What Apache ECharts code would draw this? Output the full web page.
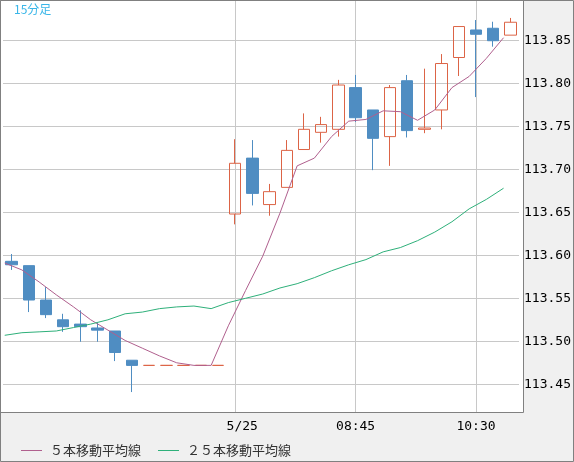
<!DOCTYPE html>
<html>
<head>
<meta charset="utf-8">
<script src="https://cdn.jsdelivr.net/npm/echarts@6/dist/echarts.min.js"></script>
<style>
  html, body { margin: 0; padding: 0; background: #f0f0f0; }
  #chart { width: 574px; height: 462px; }
</style>
</head>
<body>
<div id="chart"></div>
<script>
  // 15分足, 30 slots
  var times = ['03:45', '04:00', '04:15', '04:30', '04:45', '05:00', '05:15', '05:30', '05:45', '06:00',
    '06:15', '06:30', '06:45', '5/25', '07:15', '07:30', '07:45', '08:00', '08:15', '08:30',
    '08:45', '09:00', '09:15', '09:30', '09:45', '10:00', '10:15', '10:30', '10:45', '11:00'];
  var shownLabels = ['5/25', '08:45', '10:30'];

  var opens = [113.593, 113.588, 113.548, 113.525, 113.520, 113.5155, 113.512, 113.478, 113.472, 113.472,
    113.472, 113.472, 113.472, 113.648, 113.713, 113.659, 113.679, 113.723, 113.743, 113.7465,
    113.795, 113.769, 113.738, 113.803, 113.7465, 113.769, 113.830, 113.862, 113.864, 113.856];
  var closes = [113.589, 113.548, 113.531, 113.517, 113.517, 113.513, 113.487, 113.472, 113.472, 113.472,
    113.472, 113.472, 113.472, 113.707, 113.672, 113.674, 113.722, 113.7465, 113.752, 113.798,
    113.760, 113.736, 113.795, 113.745, 113.748, 113.823, 113.866, 113.857, 113.8495, 113.871];
  var lows = [113.583, 113.534, 113.527, 113.511, 113.4995, 113.4995, 113.477, 113.441, 113.472, 113.472,
    113.472, 113.472, 113.472, 113.636, 113.658, 113.646, 113.679, 113.723, 113.731, 113.738,
    113.755, 113.699, 113.704, 113.737, 113.742, 113.7465, 113.8085, 113.784, 113.8426, 113.856];
  var highs = [113.6015, 113.588, 113.563, 113.532, 113.536, 113.5216, 113.512, 113.478, 113.472, 113.472,
    113.472, 113.472, 113.472, 113.735, 113.734, 113.683, 113.734, 113.765, 113.761, 113.804,
    113.8097, 113.769, 113.798, 113.8097, 113.817, 113.834, 113.866, 113.8736, 113.8716, 113.876];

  var ma5 = [113.591, 113.583, 113.569, 113.554, 113.540, 113.525, 113.513, 113.501, 113.492, 113.483,
    113.475, 113.472, 113.472, 113.518, 113.559, 113.599, 113.649, 113.704, 113.713, 113.738,
    113.756, 113.758, 113.768, 113.767, 113.757, 113.769, 113.795, 113.808, 113.829, 113.853];
  var ma25 = [113.507, 113.510, 113.511, 113.512, 113.516, 113.520, 113.525, 113.532, 113.534, 113.538,
    113.540, 113.541, 113.538, 113.545, 113.550, 113.555, 113.562, 113.567, 113.574, 113.582,
    113.589, 113.595, 113.604, 113.609, 113.617, 113.627, 113.639, 113.654, 113.665, 113.678];

  var upColor = '#dc6446';
  var downColor = '#4f8dc2';
  var monoFont = 'DejaVu Sans Mono';

  var candles = times.map(function (t, i) {
    return [opens[i], closes[i], lows[i], highs[i]];
  });
  var ma5Points = ma5.map(function (v, i) { return [i, v]; });
  var ma25Points = ma25.map(function (v, i) { return [i, v]; });

  function showTime(i, name) {
    return shownLabels.indexOf(name) >= 0;
  }

  var chart = echarts.init(document.getElementById('chart'));
  var option = {
    animation: false,
    backgroundColor: '#f0f0f0',
    title: {
      text: '15分足',
      left: 14,
      top: 3,
      padding: 0,
      textStyle: { fontSize: 12, fontWeight: 'normal', color: '#39b6e8', fontFamily: 'Noto Sans CJK JP' }
    },
    legend: {
      left: 16,
      top: 439,
      icon: 'rect',
      itemWidth: 21,
      itemHeight: 1,
      itemGap: 17,
      textStyle: { fontSize: 13, color: '#333', fontFamily: 'Noto Sans CJK JP', padding: [0, 0, 0, 3] },
      data: ['５本移動平均線', '２５本移動平均線']
    },
    graphic: [
      { type: 'rect', z: -1, silent: true, shape: { x: 0.5, y: 0.5, width: 523, height: 412 }, style: { fill: '#fff' } },
      { type: 'rect', z: 100, silent: true, shape: { x: 0.5, y: 0.5, width: 523, height: 412 }, style: { fill: 'transparent', stroke: '#808080', lineWidth: 1 } },
      { type: 'rect', z: 100, silent: true, shape: { x: 0.5, y: 0.5, width: 573, height: 461 }, style: { fill: 'transparent', stroke: '#808080', lineWidth: 1 } }
    ],
    grid: { left: 3, right: 53, top: 1, bottom: 50 },
    xAxis: [{
      type: 'category',
      data: times,
      boundaryGap: true,
      axisLine: { show: false },
      axisTick: { show: false },
      axisLabel: {
        interval: showTime,
        fontFamily: monoFont,
        fontSize: 13,
        color: '#000',
        margin: 8,
        formatter: function (v) { return v.indexOf('/') > 0 ? '{d|' + v + '}' : v; },
        rich: { d: { fontFamily: monoFont, fontSize: 13, color: '#000', padding: [0, 0, 0, 14] } }
      },
      splitLine: { show: true, interval: showTime, alignWithLabel: true, lineStyle: { color: '#c8c8c8', width: 1 } }
    }, {
      type: 'value',
      min: -0.1,
      max: 29.9,
      show: false
    }],
    yAxis: {
      type: 'value',
      position: 'right',
      min: 113.4178,
      max: 113.8957,
      splitNumber: 10,
      axisLine: { show: false },
      axisTick: { show: false },
      axisLabel: {
        showMinLabel: false,
        showMaxLabel: false,
        margin: 5,
        fontFamily: monoFont,
        fontSize: 13,
        color: '#000',
        formatter: function (v) { return v.toFixed(2); }
      },
      splitLine: { show: true, showMinLine: false, showMaxLine: false, lineStyle: { color: '#c8c8c8', width: 1 } }
    },
    series: [{
      type: 'candlestick',
      data: candles,
      barWidth: 12,
      itemStyle: {
        color: 'rgba(0,0,0,0)',
        color0: downColor,
        borderColor: upColor,
        borderColor0: downColor,
        borderColorDoji: upColor,
        borderWidth: 1
      }
    }, {
      name: '５本移動平均線',
      type: 'line',
      xAxisIndex: 1,
      data: ma5Points,
      symbol: 'none',
      color: '#b0608e',
      lineStyle: { width: 1, color: '#b0608e' }
    }, {
      name: '２５本移動平均線',
      type: 'line',
      xAxisIndex: 1,
      data: ma25Points,
      symbol: 'none',
      color: '#2eb07a',
      lineStyle: { width: 1, color: '#2eb07a' }
    }]
  };
  chart.setOption(option);
</script>
</body>
</html>
